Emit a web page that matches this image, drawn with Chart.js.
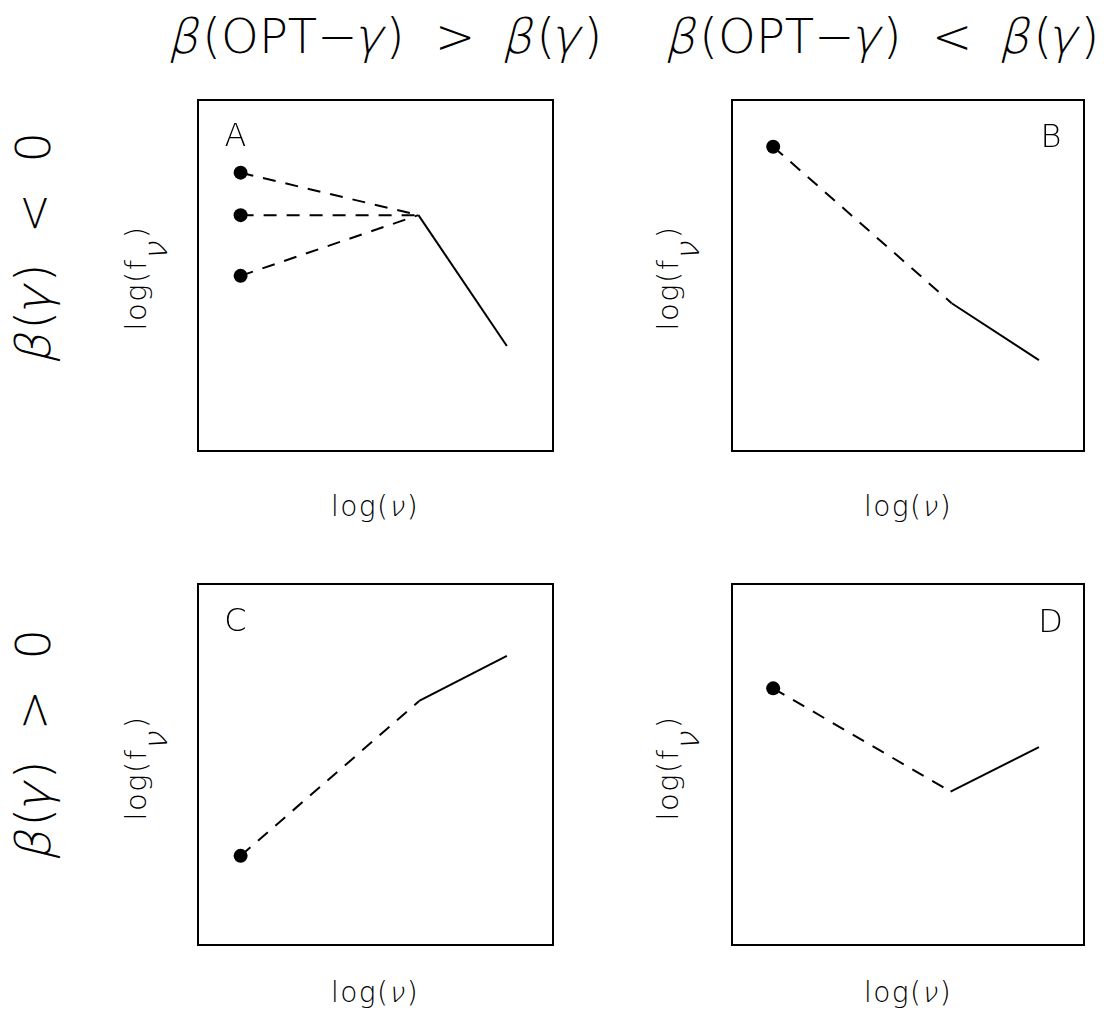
<!DOCTYPE html>
<html lang="en">
<head>
    <meta charset="UTF-8">
    <title>Spectral cases A-D</title>
    <script src="https://cdn.jsdelivr.net/npm/chart.js"></script>
    <style>
        body {
            margin: 0;
            padding: 0;
            background: #fff;
        }
        /* whole figure */
        #page {
            position: relative;
            width: 1104px;
            height: 1025px;
            overflow: hidden;
            background: #fff;
        }
        canvas {
            position: absolute;
        }
        .lbl {
            position: absolute;
            line-height: 1;
            white-space: pre;
            font-family: "DejaVu Sans", sans-serif;
            font-weight: 200;
            color: #000;
        }
        .axis {
            letter-spacing: 1.5px;
        }
        /* thin slanted greek letters */
        .gr {
            display: inline-block;
            font-style: normal;
            transform: skewX(-14deg);
        }
        .sub {
            display: inline-block;
            position: relative;
            top: 0.64em;
            font-size: 1.15em;
            line-height: 0;
        }
    </style>
</head>
<body>
<div id="page"></div>

<script>
    // panel names
    const panelNames = ['A', 'B', 'C', 'D'];

    // x positions, log(nu) in arbitrary units (0..10)
    const xStart = [1.2, 1.17, 1.2, 1.17];
    const xBreak = [6.21, 6.24, 6.23, 6.21];
    const xEnd   = [8.7, 8.72, 8.7, 8.72];

    // y values, log(f_nu) in arbitrary units (0..10)
    const yStart = [[7.93, 6.72, 4.99], [8.67], [2.47], [7.11]];
    const yBreak = [6.72, 4.21, 6.76, 4.25];
    const yEnd   = [2.99, 2.59, 8.01, 5.48];

    // titles
    const b = '<span class="gr">β</span>', g = '<span class="gr">γ</span>', n = '<span class="gr">ν</span>';
    const colTitles = [b + '(OPT−' + g + ')  &gt;  ' + b + '(' + g + ')',
                       b + '(OPT−' + g + ')  &lt;  ' + b + '(' + g + ')'];
    const rowTitles = [b + '(' + g + ')  &lt;  0', b + '(' + g + ')  &gt;  0'];
    const xTitle = 'log(' + n + ')';
    const yTitle = 'log(f<span class="sub">' + n + '</span>)';

    // plot boxes on the page
    const boxes = [
        {l: 198, t: 100, w: 355, h: 351},
        {l: 732, t: 100, w: 352, h: 351},
        {l: 198, t: 584, w: 355, h: 361},
        {l: 732, t: 584, w: 352, h: 361}
    ];
    const pad = 8;
    const page = document.getElementById('page');

    // frame round the plot area
    const framePlugin = {
        id: 'frame',
        afterDraw(chart) {
            const a = chart.chartArea;
            const ctx = chart.ctx;
            ctx.save();
            ctx.strokeStyle = '#000';
            ctx.lineWidth = 2;
            ctx.strokeRect(a.left, a.top, a.right - a.left, a.bottom - a.top);
            ctx.restore();
        }
    };

    function label(html, cx, cy, size, rot, cls) {
        const d = document.createElement('div');
        d.className = 'lbl' + (cls ? ' ' + cls : '');
        d.innerHTML = html;
        d.style.fontSize = size + 'px';
        d.style.left = cx + 'px';
        d.style.top = cy + 'px';
        d.style.transform = 'translate(-50%,-50%)' + (rot ? ' rotate(-90deg)' : '');
        page.appendChild(d);
    }

    boxes.forEach((bx, i) => {
        const cv = document.createElement('canvas');
        cv.width = bx.w + 2 * pad;
        cv.height = bx.h + 2 * pad;
        cv.style.left = (bx.l - pad) + 'px';
        cv.style.top = (bx.t - pad) + 'px';
        page.appendChild(cv);

        const datasets = [];
        // dashed part from each starting point to the break
        yStart[i].forEach(ys => {
            datasets.push({
                data: [{x: xStart[i], y: ys}, {x: xBreak[i], y: yBreak[i]}],
                borderColor: '#000',
                borderWidth: 2,
                borderDash: [13, 10],
                pointRadius: [7, 0],
                pointBackgroundColor: '#000',
                pointBorderWidth: 0,
                showLine: true
            });
        });
        // solid part after the break
        datasets.push({
            data: [{x: xBreak[i], y: yBreak[i]}, {x: xEnd[i], y: yEnd[i]}],
            borderColor: '#000',
            borderWidth: 2,
            pointRadius: 0,
            showLine: true
        });

        new Chart(cv.getContext('2d'), {
            type: 'scatter',
            data: {datasets: datasets},
            options: {
                responsive: false,
                animation: false,
                events: [],
                layout: {padding: pad},
                scales: {
                    x: {type: 'linear', min: 0, max: 10, display: false},
                    y: {type: 'linear', min: 0, max: 10, display: false}
                },
                plugins: {
                    legend: {display: false},
                    tooltip: {enabled: false}
                }
            },
            plugins: [framePlugin]
        });
    });

    // column and row titles
    label(colTitles[0], 387, 36.4, 48, false);
    label(colTitles[1], 884, 36.4, 48, false);
    label(rowTitles[0], 33.4, 246, 48, true);
    label(rowTitles[1], 33.4, 743, 48, true);

    // axis titles
    label(xTitle, 375, 507.3, 28, false, 'axis');
    label(xTitle, 908, 507.3, 28, false, 'axis');
    label(xTitle, 375, 993.3, 28, false, 'axis');
    label(xTitle, 908, 993.3, 28, false, 'axis');
    label(yTitle, 136.3, 277.5, 29, true, 'axis');
    label(yTitle, 668.3, 277.5, 29, true, 'axis');
    label(yTitle, 136.3, 767.5, 29, true, 'axis');
    label(yTitle, 668.3, 767.5, 29, true, 'axis');

    // panel letters
    label(panelNames[0], 235.5, 135, 32, false);
    label(panelNames[1], 1051, 135.6, 32, false);
    label(panelNames[2], 235.5, 620.4, 32, false);
    label(panelNames[3], 1050.7, 620.6, 32, false);
</script>
</body>
</html>
